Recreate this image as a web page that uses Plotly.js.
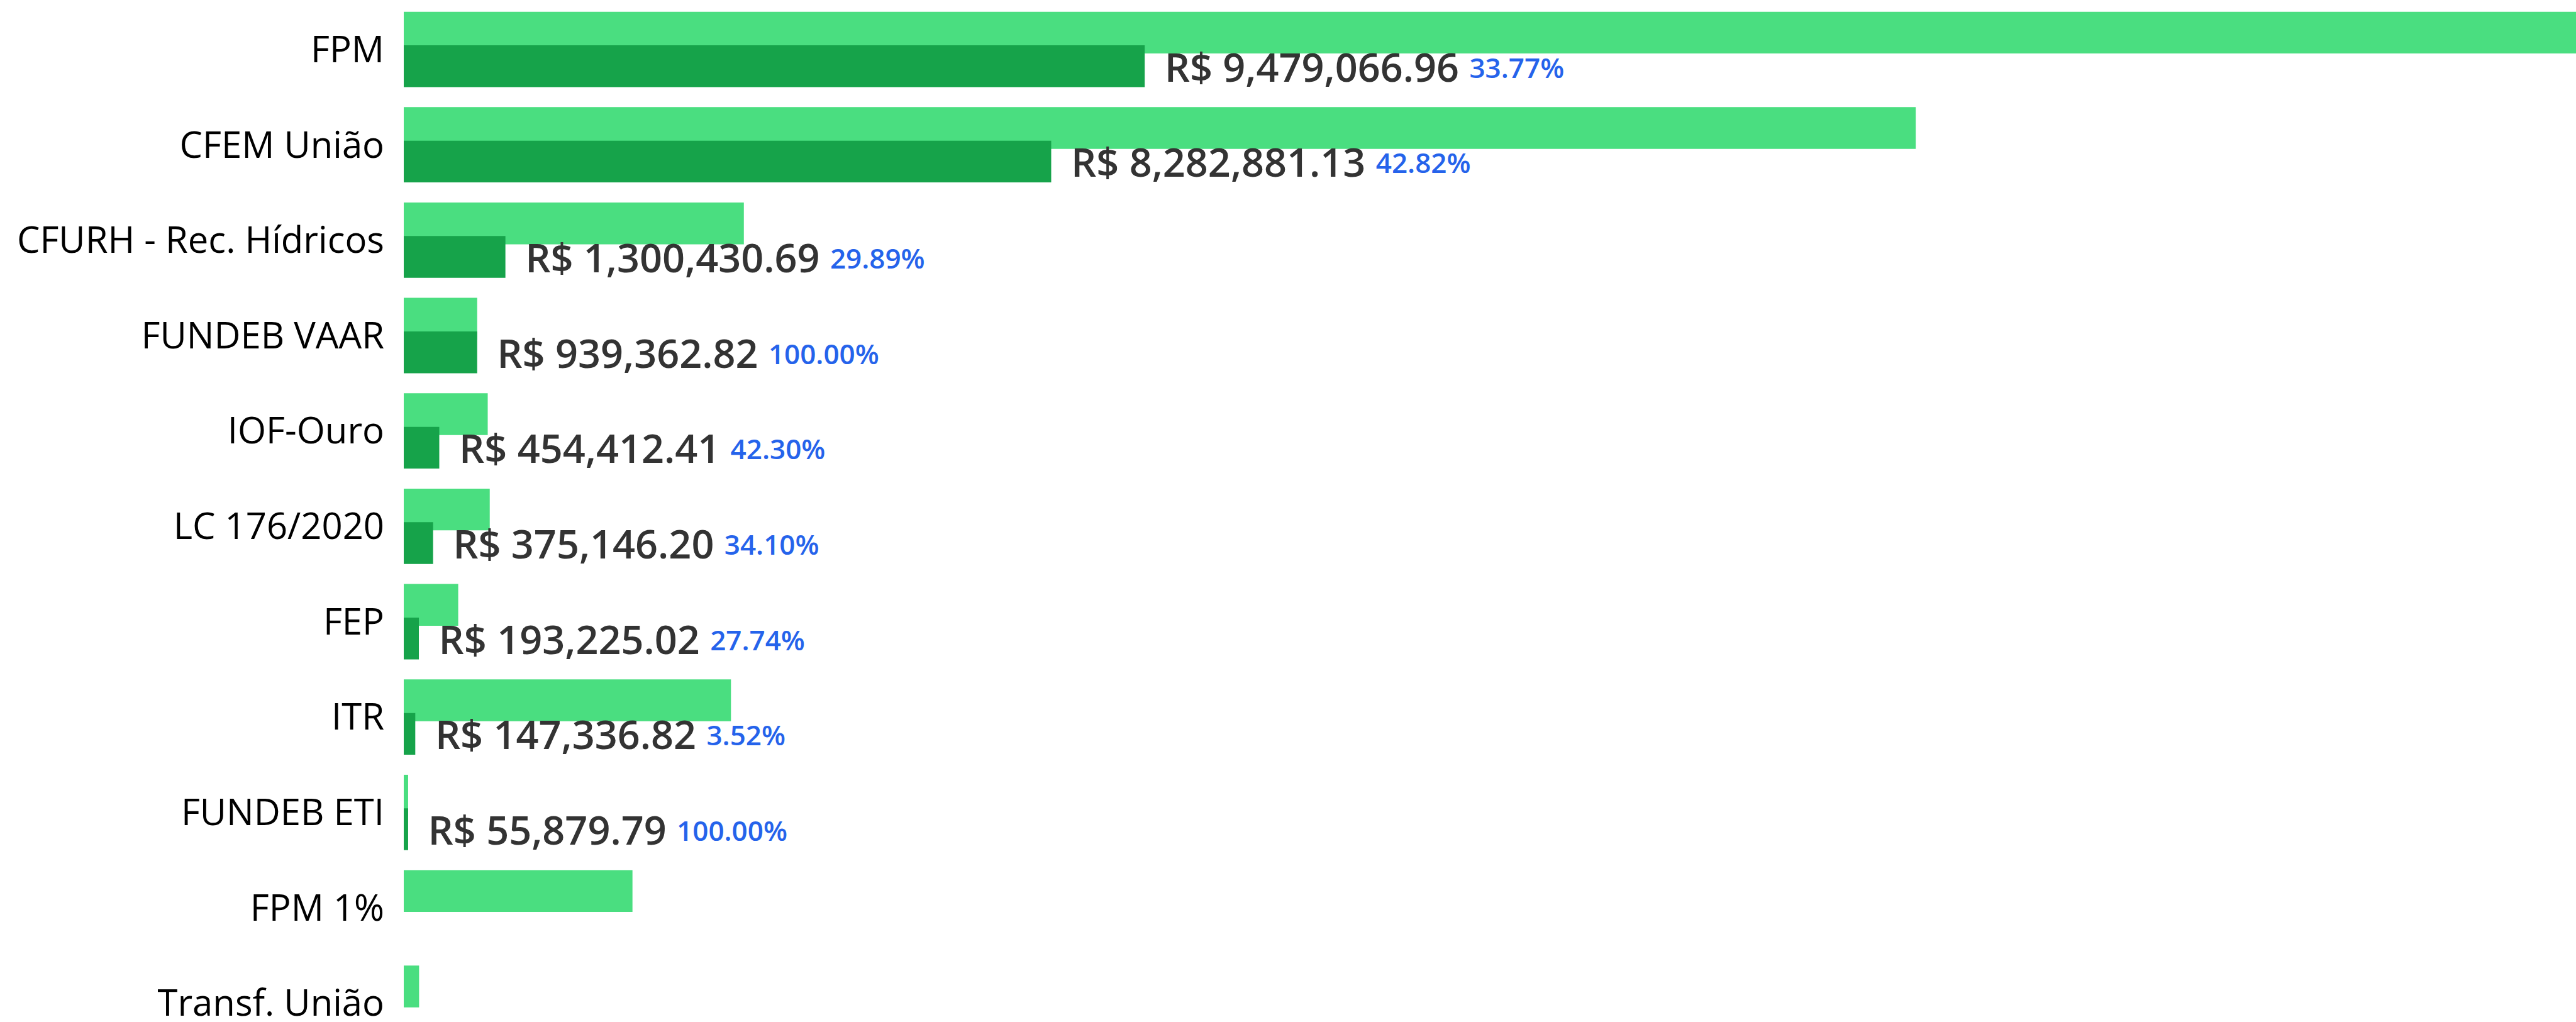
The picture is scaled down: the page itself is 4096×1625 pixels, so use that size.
<!DOCTYPE html>
<html>
<head>
<meta charset="utf-8">
<script src="https://cdn.plot.ly/plotly-3.0.1.min.js"></script>
<style>
  html, body { margin: 0; padding: 0; background: #ffffff; }
  #chart { width: 4096px; height: 1625px; }
</style>
</head>
<body>
<div id="chart"></div>
<script>
// ---- data ----
const categories = ['FPM', 'CFEM União', 'CFURH - Rec. Hídricos', 'FUNDEB VAAR', 'IOF-Ouro',
  'LC 176/2020', 'FEP', 'ITR', 'FUNDEB ETI', 'FPM 1%', 'Transf. União'];
// light bars (expected / total)
const totalValues = [28070000, 19343000, 4351000, 939362.82, 1074300, 1100100, 696600,
  4186000, 55879.79, 2926000, 196000];
// dark bars (realized)
const realizedValues = [9479066.96, 8282881.13, 1300430.69, 939362.82, 454412.41, 375146.20,
  193225.02, 147336.82, 55879.79, null, null];
const pctLabels = ['33.77%', '42.82%', '29.89%', '100.00%', '42.30%', '34.10%', '27.74%',
  '3.52%', '100.00%', '', ''];

function brl(v) {
  return 'R$ ' + v.toLocaleString('en-US', { minimumFractionDigits: 2, maximumFractionDigits: 2 });
}
const barTexts = realizedValues.map((v, i) => v == null ? '' :
  '<span style="font-size:55px">\u00A0\u00A0</span>' + brl(v) +
  '\u00A0<span style="font-size:44px;color:#2563eb;baseline-shift:6px">' + pctLabels[i] + '</span>');

const lightTrace = {
  type: 'bar', orientation: 'h',
  y: categories, x: totalValues,
  marker: { color: '#4ade80', line: { width: 0 } },
  offset: -0.395, width: 0.438,
  hoverinfo: 'skip'
};
const darkTrace = {
  type: 'bar', orientation: 'h',
  y: categories, x: realizedValues,
  marker: { color: '#16a34a', line: { width: 0 } },
  offset: -0.043, width: 0.438,
  text: barTexts, textposition: 'outside', constraintext: 'none', cliponaxis: false,
  textfont: { family: 'Open Sans', size: 63, color: '#333333', weight: 600 },
  hoverinfo: 'skip'
};

const layout = {
  width: 4096, height: 1625,
  margin: { l: 642, r: 0, t: 0, b: 0, pad: 0 },
  paper_bgcolor: '#ffffff', plot_bgcolor: '#ffffff',
  barmode: 'overlay',
  showlegend: false,
  hovermode: false,
  xaxis: {
    range: [0, 27790000], visible: false, showgrid: false, zeroline: false, fixedrange: true
  },
  yaxis: {
    type: 'category',
    categoryorder: 'array', categoryarray: categories,
    range: [10.197, -0.518],
    showgrid: false, zeroline: false, showline: false, ticks: '',
    ticklabelstandoff: 30,
    tickfont: { family: 'Open Sans', size: 58, color: '#000000' },
    automargin: false, fixedrange: true
  },
  font: { family: 'Open Sans' }
};

Plotly.newPlot('chart', [lightTrace, darkTrace], layout, { displayModeBar: false, staticPlot: true });
</script>
</body>
</html>
